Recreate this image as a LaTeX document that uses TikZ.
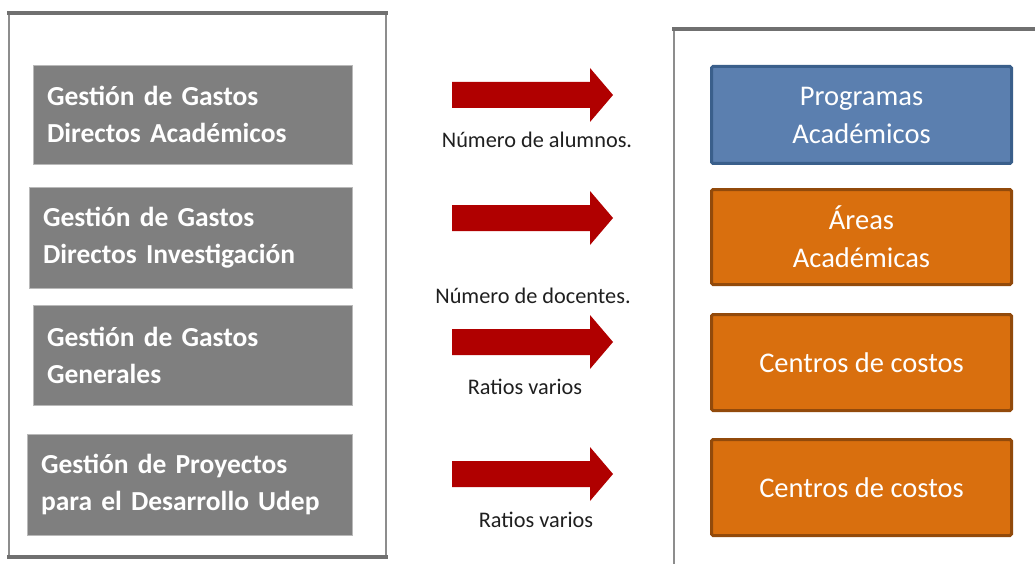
\documentclass[tikz,border=0pt]{standalone}
\usepackage{fontspec}
\setmainfont{Carlito}
\usepackage{tikz}

\definecolor{boxgrey}{HTML}{7F7F7F}
\definecolor{framegrey}{HTML}{707070}
\definecolor{arrowred}{HTML}{B00000}
\definecolor{progblue}{HTML}{5B7FAF}
\definecolor{progblueedge}{HTML}{3A5F8B}
\definecolor{areaorange}{HTML}{D96F0E}
\definecolor{areaorangeedge}{HTML}{924A0B}

\begin{document}
\begin{tikzpicture}[x=1pt, y=-1pt,
	gestion/.style={fill=boxgrey, draw=gray!55, line width=0.8pt, text=white, inner xsep=14pt, inner ysep=0pt, align=left, font=\fontsize{27.5}{37}\selectfont\bfseries},
	destino/.style={draw, line width=3pt, rounded corners=1.5pt, minimum width=300pt, text=white, align=center, font=\fontsize{28.5}{38}\selectfont},
	lbl/.style={text=black!88, font=\fontsize{22.3}{24}\selectfont, inner sep=0pt}]
	\useasboundingbox (0,0) rectangle (1035,564);

	% marcos
	\draw [framegrey!80, line width=1.5pt] (9,13) -- (9,557);
	\draw [framegrey!80, line width=1.5pt] (386,13) -- (386,557);
	\draw [framegrey, line width=4pt] (7,13) -- (388,13);
	\draw [framegrey, line width=4pt] (7,557) -- (388,557);
	\draw [framegrey!80, line width=1.5pt] (674,29) -- (674,564);
	\draw [framegrey, line width=4pt] (672,29) -- (1035,29);

	% gestion
	\node[gestion, minimum height=99pt, text width=291pt] (gda) at (192.5,114.5) {Gestión de Gastos\\Directos Académicos};
	\node[gestion, minimum height=101pt, text width=295pt] (gdi) at (190.5,237.5) {Gestión de Gastos\\Directos Investigación};
	\node[gestion, minimum height=100pt, text width=291pt] (ggg) at (192.5,355) {Gestión de Gastos\\Generales};
	\node[gestion, minimum height=101pt, text width=297pt] (gpd) at (189.5,484.5) {Gestión de Proyectos\\para el Desarrollo Udep};

	% flechas
	\foreach \ay in {95,218,342,474}
		\fill [arrowred] (452,\ay-13) -- (590,\ay-13) -- (590,\ay-27) -- (613,\ay) -- (590,\ay+27) -- (590,\ay+13) -- (452,\ay+13) -- cycle;

	\node[lbl] (alumnos) at (537,140) {Número de alumnos.};
	\node[lbl] (docentes) at (533,296) {Número de docentes.};
	\node[lbl] (ratiosa) at (525,387) {Ratios varios};
	\node[lbl] (ratiosb) at (536,520) {Ratios varios};

	% destinos
	\node[destino, fill=progblue, draw=progblueedge, minimum height=97pt] (prog) at (861.5,115) {Programas\\Académicos};
	\node[destino, fill=areaorange, draw=areaorangeedge, minimum height=95pt] (areas) at (861.5,237) {Áreas\\Académicas};
	\node[destino, fill=areaorange, draw=areaorangeedge, minimum height=96pt] (ccosa) at (861.5,362.5) {Centros de costos};
	\node[destino, fill=areaorange, draw=areaorangeedge, minimum height=96pt] (ccosb) at (861.5,487.5) {Centros de costos};
\end{tikzpicture}
\end{document}
